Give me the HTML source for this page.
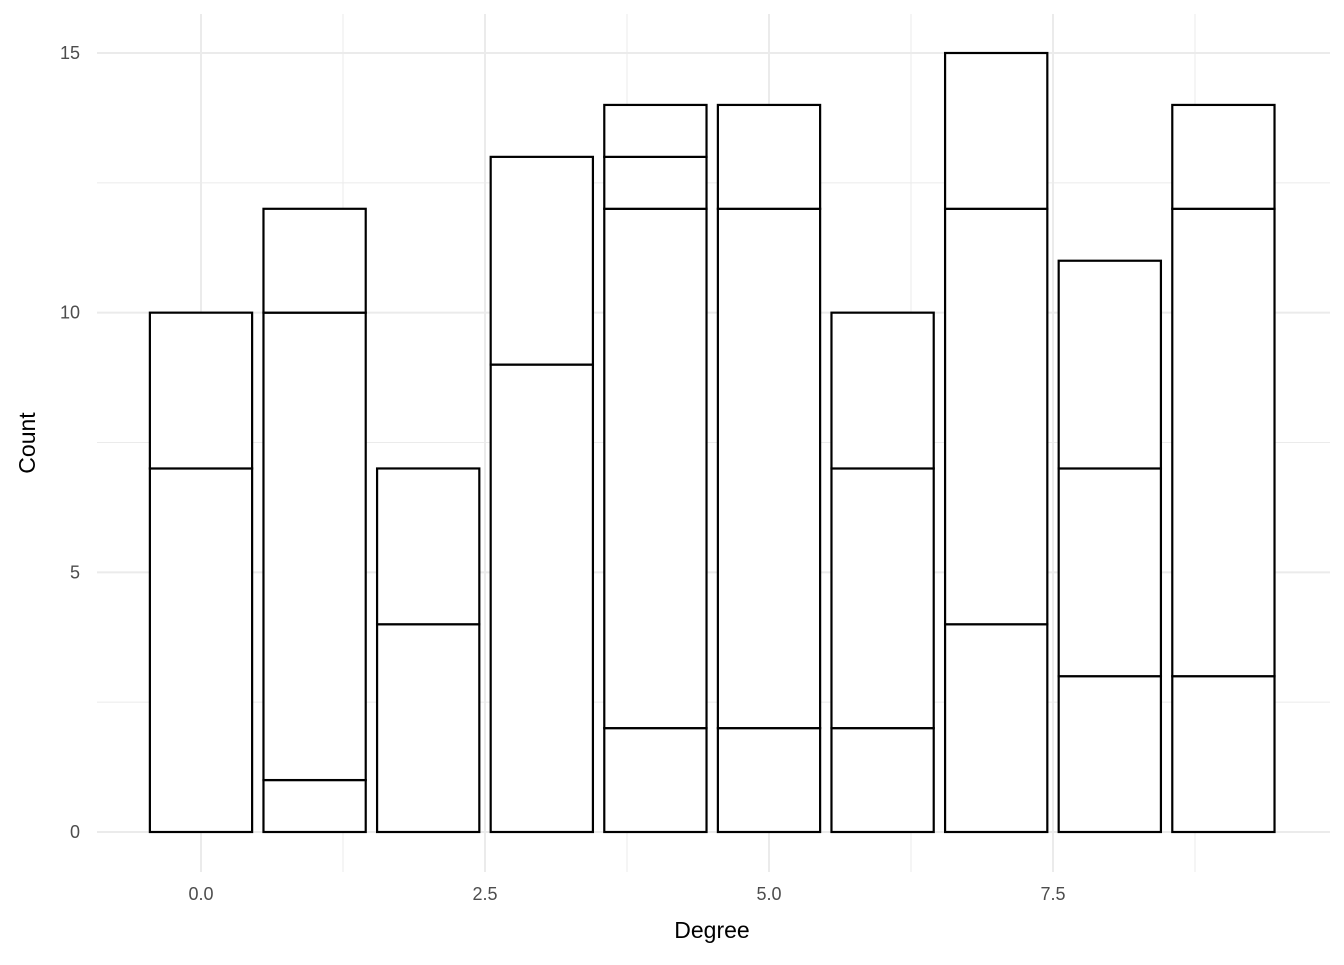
<!DOCTYPE html>
<html><head><meta charset="utf-8"><style>
body{margin:0;background:#fff;font-family:"Liberation Sans","DejaVu Sans",sans-serif;}
</style></head><body>
<svg id="chart" width="1344" height="960" xmlns="http://www.w3.org/2000/svg">
<g id="grid"></g><g id="bars"></g><g id="axes"></g>
</svg>
<script>
const degrees=[0,1,2,3,4,5,6,7,8,9];
const segments=[[7,3],[1,9,2],[4,3],[9,4],[2,10,1,1],[2,10,2],[2,5,3],[4,8,3],[3,4,4],[3,9,2]];
const yTicks=[0,5,10,15];
const yMinor=[2.5,7.5,12.5];
const xTicks=[0,2.5,5,7.5];
const xTickLabels=["0.0","2.5","5.0","7.5"];
const xMinor=[1.25,3.75,6.25,8.75];
const NS="http://www.w3.org/2000/svg";
const X=v=>201+v*113.6, Y=v=>832-v*779/15;
const L=97,R=1330,T=14,B=872;
function mk(tag,attrs,parent,txt){const e=document.createElementNS(NS,tag);for(const k in attrs)e.setAttribute(k,attrs[k]);if(txt!==undefined)e.textContent=txt;parent.appendChild(e);return e;}
const grid=document.getElementById('grid'),bars=document.getElementById('bars'),axes=document.getElementById('axes');
yMinor.forEach(v=>{const e=mk('line',{x1:L,x2:R,y1:Y(v),y2:Y(v),stroke:'#ebebeb','stroke-width':1},grid);

});
xMinor.forEach(v=>{const e=mk('line',{x1:X(v),x2:X(v),y1:T,y2:B,stroke:'#ebebeb','stroke-width':1},grid);

});
yTicks.forEach(v=>{const e=mk('line',{x1:L,x2:R,y1:Y(v),y2:Y(v),stroke:'#ebebeb','stroke-width':2},grid);


const t=mk('text',{x:80,y:Y(v)+6,'text-anchor':'end','font-size':18,fill:'#4d4d4d'},axes,String(v));

});
xTicks.forEach((v,i)=>{const e=mk('line',{x1:X(v),x2:X(v),y1:T,y2:B,stroke:'#ebebeb','stroke-width':2},grid);


const t=mk('text',{x:X(v),y:900,'text-anchor':'middle','font-size':18,fill:'#4d4d4d'},axes,xTickLabels[i]);

});
degrees.forEach((d,i)=>{let base=0;segments[i].forEach(s=>{
const r=mk('rect',{x:X(d-0.45),y:Y(base+s),width:X(d+0.45)-X(d-0.45),height:Y(base)-Y(base+s),fill:'#fff',stroke:'#000','stroke-width':2.2},bars);


base+=s;});});
const xt=mk('text',{x:712,y:938,'text-anchor':'middle','font-size':23,fill:'#000'},axes,'Degree');


const yt=mk('text',{x:0,y:0,transform:'translate(35,443) rotate(-90)','text-anchor':'middle','font-size':23,fill:'#000'},axes,'Count');


</script>
</body></html>
